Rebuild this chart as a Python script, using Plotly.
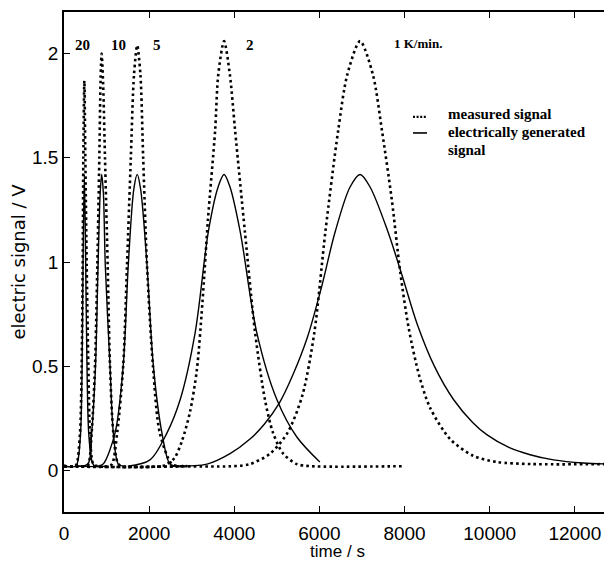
import plotly.graph_objects as go

# time axis values (s) and signals (V), one pair per heating rate
t_meas_20 = [0, 250, 298, 376, 415, 439, 454, 478, 501, 533, 572, 611, 689, 800, 2800]
v_meas_20 = [0.02, 0.02, 0.03, 0.18, 0.50, 0.985, 1.50, 1.87, 1.50, 0.985, 0.50, 0.18, 0.03, 0.02, 0.02]
t_elec_20 = [0, 280, 330, 390, 425, 447, 478, 510, 540, 580, 650, 720, 1000]
v_elec_20 = [0.02, 0.02, 0.05, 0.18, 0.50, 0.985, 1.42, 0.985, 0.50, 0.18, 0.05, 0.02, 0.02]

t_meas_10 = [0, 500, 572, 650, 728, 783, 830, 860, 885, 920, 963, 1026, 1081, 1159, 1277, 1400, 2800]
v_meas_10 = [0.02, 0.02, 0.03, 0.18, 0.50, 0.985, 1.50, 1.88, 2.00, 1.85, 1.50, 0.985, 0.50, 0.18, 0.03, 0.02, 0.02]
t_elec_10 = [300, 560, 650, 740, 800, 850, 885, 925, 970, 1081, 1159, 1277, 1400]
v_elec_10 = [0.02, 0.03, 0.18, 0.50, 0.985, 1.33, 1.42, 1.33, 0.985, 0.50, 0.18, 0.03, 0.02]

t_meas_5 = [0, 1050, 1130, 1250, 1390, 1480, 1570, 1645, 1720, 1795, 1860, 1950, 2090, 2250, 2530, 2700, 2900]
v_meas_5 = [0.02, 0.02, 0.03, 0.18, 0.50, 0.985, 1.50, 1.90, 2.04, 1.90, 1.50, 0.985, 0.50, 0.18, 0.03, 0.02, 0.02]
t_elec_5 = [300, 800, 920, 1200, 1390, 1510, 1640, 1720, 1800, 1950, 2100, 2300, 2490, 2650]
v_elec_5 = [0.02, 0.02, 0.03, 0.18, 0.50, 0.985, 1.35, 1.42, 1.35, 0.985, 0.50, 0.18, 0.03, 0.02]

t_meas_2 = [0, 2300, 2420, 2600, 2770, 2960, 3120, 3250, 3380, 3550, 3624, 3760, 3896, 4020,
            4250, 4490, 4720, 4910, 5150, 5470, 5800, 8000]
v_meas_2 = [0.02, 0.02, 0.03, 0.06, 0.14, 0.28, 0.48, 0.80, 1.20, 1.63, 1.90, 2.06, 1.90, 1.63,
            1.145, 0.66, 0.34, 0.18, 0.08, 0.03, 0.02, 0.02]
t_elec_2 = [1500, 2020, 2420, 2730, 3080, 3390, 3620, 3760, 3900, 4140, 4530, 5000, 5470, 6010]
v_elec_2 = [0.02, 0.05, 0.18, 0.34, 0.66, 1.145, 1.36, 1.42, 1.36, 1.145, 0.66, 0.34, 0.16, 0.04]

t_meas_1 = [2500, 4000, 4370, 4840, 5250, 5600, 5880, 6140, 6440, 6656, 6956, 7256, 7470, 7700,
            7900, 8100, 8350, 8600, 9070, 9610, 10170, 11000, 12850]
v_meas_1 = [0.02, 0.02, 0.03, 0.08, 0.18, 0.36, 0.66, 1.145, 1.63, 1.90, 2.06, 1.90, 1.63, 1.30,
            0.95, 0.68, 0.45, 0.30, 0.15, 0.07, 0.04, 0.03, 0.03]
t_elec_1 = [2500, 3360, 3900, 4370, 4700, 5050, 5380, 5720, 6050, 6370, 6720, 6956, 7190, 7610,
            7950, 8300, 8700, 9150, 9600, 9940, 10450, 10950, 11500, 12200, 12850]
v_elec_1 = [0.02, 0.03, 0.08, 0.15, 0.22, 0.32, 0.46, 0.64, 0.88, 1.145, 1.36, 1.42, 1.36, 1.145,
            0.93, 0.70, 0.50, 0.34, 0.23, 0.17, 0.11, 0.075, 0.05, 0.035, 0.03]

rate_labels = ["20", "10", "5", "2"]
rate_label_t = [423, 1270, 2185, 4370]

x_ticks = [0, 2000, 4000, 6000, 8000, 10000, 12000]
y_ticks = [0, 0.5, 1, 1.5, 2]

measured = [(t_meas_20, v_meas_20), (t_meas_10, v_meas_10), (t_meas_5, v_meas_5),
            (t_meas_2, v_meas_2), (t_meas_1, v_meas_1)]
electric = [(t_elec_20, v_elec_20), (t_elec_10, v_elec_10), (t_elec_5, v_elec_5),
            (t_elec_2, v_elec_2), (t_elec_1, v_elec_1)]

fig = go.Figure()
for t, v in electric:
    fig.add_trace(go.Scatter(x=t, y=v, mode="lines", showlegend=False,
                             line=dict(color="black", width=1.4, shape="spline", smoothing=0.9)))
for t, v in measured:
    fig.add_trace(go.Scatter(x=t, y=v, mode="lines", showlegend=False,
                             line=dict(color="black", width=2.6, dash="2.6px,3.2px",
                                       shape="spline", smoothing=0.8)))

serif = "Liberation Serif, Times New Roman, serif"
for lab, t in zip(rate_labels, rate_label_t):
    fig.add_annotation(x=t, y=2.04, xref="x", yref="y", text="<b>%s</b>" % lab, showarrow=False,
                       font=dict(family=serif, size=15, color="black"))
fig.add_annotation(x=7700, y=2.05, xref="x", yref="y", text="<b>1 K/min.</b>", showarrow=False,
                   xanchor="left", font=dict(family=serif, size=13, color="black"))

# the page body has an 8px margin, so the figure is drawn 8px smaller and offset
# plot area in page pixels: left 64, top 12, right 611, bottom 508
W, L, T, B = 547.0, 64.0, 12.0, 508.0
def px(x):
    return (x - L) / W
def py(y):
    return (B - y) / (B - T)

fig.add_shape(type="line", xref="paper", yref="paper", x0=px(413), x1=px(427), y0=py(116), y1=py(116),
              line=dict(color="black", width=2.4, dash="2px,1.6px"))
fig.add_shape(type="line", xref="paper", yref="paper", x0=px(413), x1=px(427), y0=py(132), y1=py(132),
              line=dict(color="black", width=1.6))
for txt, y in [("measured signal", 113.5), ("electrically generated", 131), ("signal", 148.5)]:
    fig.add_annotation(x=px(446), y=py(y), xref="paper", yref="paper", text="<b>%s</b>" % txt,
                       showarrow=False, xanchor="left", yanchor="middle",
                       font=dict(family=serif, size=15, color="black"))

sans = "Liberation Sans, Arial, sans-serif"
axis_common = dict(showline=True, linecolor="black", linewidth=1.6, mirror="ticks",
                   ticks="inside", ticklen=6, tickwidth=1.4, tickcolor="black",
                   showgrid=False, zeroline=False, automargin=False,
                   tickfont=dict(family=sans, size=19, color="black"))
fig.update_xaxes(range=[0, 12850], tickvals=x_ticks, ticktext=[str(v) for v in x_ticks],
                 ticklabelstandoff=3,
                 title=dict(text="time / s", font=dict(family=sans, size=17, color="black")),
                 **axis_common)
fig.update_yaxes(range=[-0.2, 2.2], tickvals=y_ticks, ticktext=["0", "0.5", "1", "1.5", "2"],
                 title=dict(text="electric signal / V",
                            font=dict(family="DejaVu Sans, sans-serif", size=18, color="black")),
                 **axis_common)

fig.update_layout(width=604, height=553, margin=dict(l=56, r=1, t=4, b=49),
                  paper_bgcolor="white", plot_bgcolor="white", showlegend=False)

fig.write_html("out.html")
